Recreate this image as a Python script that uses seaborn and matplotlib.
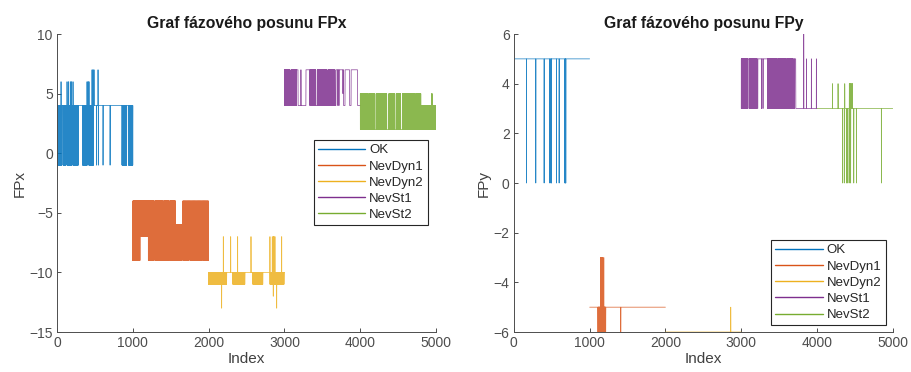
import numpy as np
import pandas as pd
import seaborn as sns
import matplotlib.pyplot as plt

classes = ["OK", "NevDyn1", "NevDyn2", "NevSt1", "NevSt2"]
colors = ["#0072BD", "#D95319", "#EDB120", "#7E2F8E", "#77AC30"]
n_per_class = 1000

# ── FPx ──
# base level per class, held levels (a, b, value), dense toggles (a, b, value, stride), single spikes (idx, value)
fpx_base = [4, -4, -10, 4, 2]
fpx_levels = [
    [],
    [(1560, 2001, -6)],
    [],
    [(3161, 3180, 7), (3284, 3337, 7), (3680, 3780, 7), (3800, 3860, 7), (3880, 3965, 7)],
    [(4800, 5001, 4)],
]
fpx_toggles = [
    [(1, 60, -1, 2), (80, 120, -1, 2), (140, 200, -1, 2), (220, 280, -1, 2),
     (340, 400, -1, 2), (420, 480, -1, 2), (858, 920, -1, 3), (945, 1001, -1, 3)],
    [(1001, 1095, -9, 2), (1095, 1205, -7, 2), (1205, 1280, -9, 2), (1300, 1390, -9, 2),
     (1410, 1470, -9, 2), (1490, 1560, -9, 2), (1560, 1640, -9, 2), (1660, 1735, -9, 2),
     (1755, 1825, -9, 2), (1845, 1915, -9, 2), (1935, 2001, -9, 2), (1660, 2001, -4, 6)],
    [(2001, 2238, -11, 2), (2321, 2480, -11, 3), (2585, 2717, -11, 3), (2809, 2994, -11, 2)],
    [(3001, 3075, 7, 2), (3095, 3161, 7, 2), (3337, 3415, 7, 2), (3435, 3555, 7, 2),
     (3575, 3667, 7, 2)],
    [(4001, 4095, 5, 2), (4115, 4195, 5, 2), (4215, 4350, 5, 2), (4380, 4455, 5, 2),
     (4475, 4535, 5, 2), (4560, 4635, 5, 2), (4655, 4715, 5, 2), (4735, 4800, 5, 2),
     (4800, 5001, 2, 2)],
]
fpx_spikes = [
    [(53, 6), (132, 6), (150, 6), (175, 6), (190, 6), (211, 6), (396, 6), (410, 6), (422, 6),
     (462, 7), (475, 7), (488, 7), (541, 7), (520, -1), (545, -1), (607, -1), (700, -1)],
    [],
    [(2194, -7), (2291, -7), (2383, -7), (2559, -7), (2809, -7), (2840, -7), (2855, -7),
     (2862, -7), (2875, -7), (2964, -7), (2172, -13), (2898, -13), (2853, -12)],
    [(3180, 4), (3218, 7), (3705, 4), (3720, 4), (3772, 5), (3865, 4), (3970, 4)],
    [(4942, 5), (4950, 5)],
]

# ── FPy ──
fpy_base = [5, -5, -6, 5, 3]
fpy_levels = [
    [],
    [],
    [],
    [(3720, 4001, 3)],
    [],
]
fpy_toggles = [
    [],
    [(1112, 1213, -6, 2)],
    [],
    [(3001, 3085, 3, 2), (3105, 3200, 3, 2), (3350, 3475, 3, 2), (3495, 3595, 3, 2),
     (3615, 3680, 3, 2)],
    [],
]
fpy_spikes = [
    [(167, 0), (290, 0), (400, 0), (475, 0), (490, 0), (497, 0), (563, 0), (598, 0),
     (673, 0), (680, 0), (686, 0)],
    [(1143, -3), (1151, -3), (1161, -3), (1171, -3), (1187, -3), (1411, -6)],
    [(2862, -5)],
    [(3218, 3), (3267, 3), (3288, 3), (3690, 3), (3705, 3), (3825, 6), (3861, 5),
     (3926, 5), (3992, 5)],
    [(4204, 4), (4278, 4), (4366, 4), (4427, 4), (4433, 4), (4441, 4), (4451, 4),
     (4461, 4), (4468, 4), (4336, 0), (4360, 0), (4388, 0), (4400, 0), (4424, 0),
     (4444, 0), (4485, 0), (4520, 0), (4850, 0)],
]


def build(k, base, levels, toggles, spikes):
    idx = np.arange(k * n_per_class + 1, (k + 1) * n_per_class + 1)
    y = np.full(n_per_class, float(base))
    for a, b, v in levels:
        y[(idx >= a) & (idx < b)] = v
    for a, b, v, s in toggles:
        y[(idx >= a) & (idx < b) & ((idx - a) % s == 0)] = v
    for i, v in spikes:
        y[idx == i] = v
    return idx, y


frames = []
for k, name in enumerate(classes):
    idx, fx = build(k, fpx_base[k], fpx_levels[k], fpx_toggles[k], fpx_spikes[k])
    _, fy = build(k, fpy_base[k], fpy_levels[k], fpy_toggles[k], fpy_spikes[k])
    frames.append(pd.DataFrame({"Index": idx, "FPx": fx, "FPy": fy, "Trida": name}))
df = pd.concat(frames, ignore_index=True)

sns.set_theme(style="ticks")
plt.rcParams["font.family"] = ["Liberation Sans", "DejaVu Sans"]

fig = plt.figure(figsize=(9.11, 3.72), dpi=100)
ax1 = fig.add_axes([0.0626, 0.1075, 0.416, 0.801])
ax2 = fig.add_axes([0.564, 0.1075, 0.416, 0.801])

panels = [
    (ax1, "FPx", "Graf fázového posunu FPx", (-15, 10), np.arange(-15, 11, 5),
     "upper right", (0.979, 0.644)),
    (ax2, "FPy", "Graf fázového posunu FPy", (-6, 6), np.arange(-6, 7, 2),
     "lower right", (0.981, 0.023)),
]

for ax, col, title, ylim, yticks, loc, anchor in panels:
    sns.lineplot(data=df, x="Index", y=col, hue="Trida", hue_order=classes,
                 palette=colors, estimator=None, sort=False, lw=0.55, alpha=0.85, ax=ax)
    ax.set_xlim(0, 5000)
    ax.set_ylim(*ylim)
    ax.set_xticks(np.arange(0, 5001, 1000))
    ax.set_yticks(yticks)
    ax.set_title(title, fontsize=11.3, fontweight="bold", color="#1a1a1a", pad=4)
    ax.set_xlabel("Index", fontsize=11, color="#404040", labelpad=1)
    ax.set_ylabel(col, fontsize=11, color="#404040", labelpad=2)
    ax.tick_params(direction="in", length=3, width=0.7, colors="#4d4d4d",
                   labelsize=10, pad=3)
    for s in ["top", "right"]:
        ax.spines[s].set_visible(False)
    for s in ["left", "bottom"]:
        ax.spines[s].set_color("#4d4d4d")
        ax.spines[s].set_linewidth(0.7)
    sns.move_legend(ax, loc, bbox_to_anchor=anchor, title=None, frameon=True,
                    fancybox=False, framealpha=1, edgecolor="#262626",
                    fontsize=9.5, handlelength=3.6, labelspacing=0.3,
                    borderpad=0.3, handletextpad=0.3, borderaxespad=0)
    leg = ax.get_legend()
    leg.get_frame().set_linewidth(0.8)
    for line in leg.get_lines():
        line.set_linewidth(1.0)
        line.set_alpha(1)

fig.savefig("out.png", dpi=100)
